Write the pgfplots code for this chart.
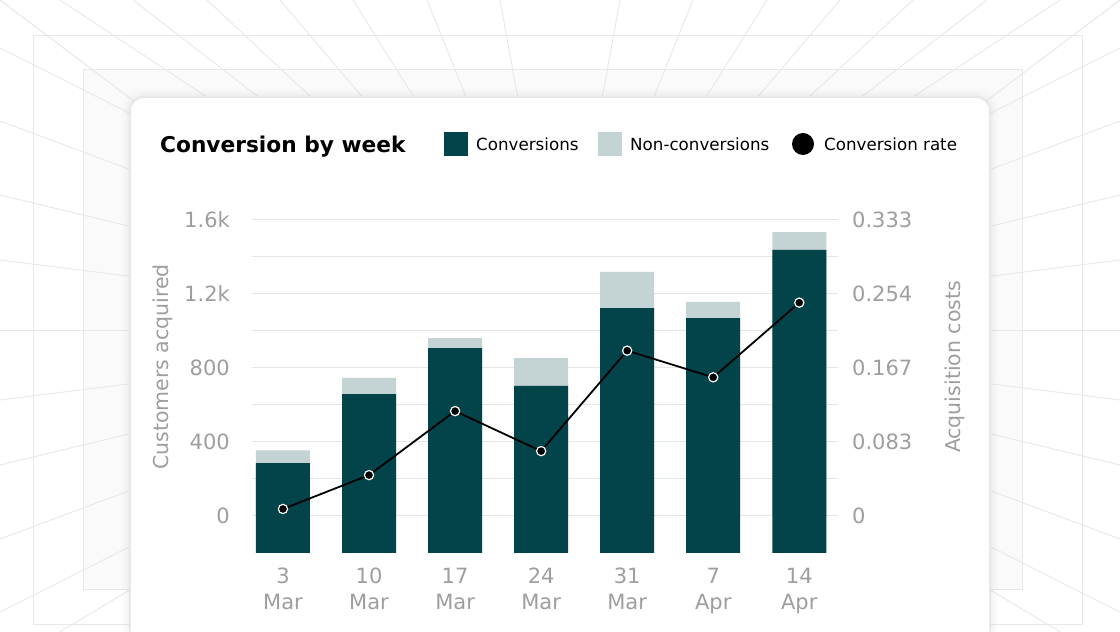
\documentclass[border=0pt]{standalone}
\usepackage{fontspec}
\setmainfont{DejaVu Sans}
\usepackage{pgfplots}
\pgfplotsset{compat=1.18}

\definecolor{convdark}{HTML}{03444A}
\definecolor{convlight}{HTML}{C4D3D3}
\definecolor{tickgray}{HTML}{9E9E9E}
\definecolor{gridgray}{HTML}{E6E6E6}
\definecolor{bgline}{HTML}{E8E8E8}

\begin{document}
\begin{tikzpicture}
\begin{scope}[x=1pt,y=1pt]
% background: perspective grid
\fill[white] (0,0) rectangle (1120,632);
\begin{scope}
\clip (0,0) rectangle (1120,632);
\fill[black!2] (83,42) rectangle (1022,562);
\foreach \x in {60,133,207,280,353,427,500,620,693,767,840,913,987,1060} {
  \draw[bgline, line width=0.9pt] (\x,632) -- (560,302);
  \draw[bgline, line width=0.9pt] (\x,0) -- (560,302);
}
\foreach \y in {20,93,167,232,372,437,511,584} {
  \draw[bgline, line width=0.9pt] (0,\y) -- (560,302);
  \draw[bgline, line width=0.9pt] (1120,\y) -- (560,302);
}
\draw[bgline, line width=0.9pt] (0,302) -- (1120,302);
% room edges
\draw[bgline, line width=1pt] (0,632) -- (135,530);
\draw[bgline, line width=1pt] (1120,632) -- (985,530);
\draw[bgline, line width=1pt] (33,7) rectangle (1082,596);
\draw[bgline, line width=1pt] (83,42) rectangle (1022,562);
% card shadow and card
\foreach \d/\o in {8/0.01,5/0.015,2.5/0.02} {
  \fill[black, opacity=\o, rounded corners=18pt] (130-\d,-40) rectangle (990+\d,535+\d);
}
\filldraw[fill=white, draw=black!9, line width=1.8pt, rounded corners=14pt] (130,-40) rectangle (990,535);
\end{scope}
\path (0,0) rectangle (1120,632);

% title and legend
\node[anchor=base west, inner sep=0pt, font=\fontsize{21.7}{26}\selectfont\bfseries] at (160,479) {Conversion by week};
\fill[convdark] (444,476) rectangle (468,500);
\node[anchor=base west, inner sep=0pt, font=\fontsize{16.7}{20}\selectfont] at (476,481) {Conversions};
\fill[convlight] (598,476) rectangle (622,500);
\node[anchor=base west, inner sep=0pt, font=\fontsize{16.7}{20}\selectfont] at (630,481) {Non-conversions};
\fill[black] (803,488) circle (11);
\node[anchor=base west, inner sep=0pt, font=\fontsize{16.7}{20}\selectfont] at (824,481) {Conversion rate};
\end{scope}

% bars: customers acquired
\begin{axis}[
  at={(252pt,79pt)}, anchor=south west,
  scale only axis, width=586pt, height=333pt,
  xmin=-0.36, xmax=6.45, ymin=-200, ymax=1600,
  axis line style={draw=none},
  major tick length=0pt, minor tick length=0pt,
  ytick={0,400,800,1200,1600},
  yticklabels={0,400,800,1.2k,1.6k},
  minor ytick={200,600,1000,1400},
  ymajorgrids, yminorgrids,
  major grid style={draw=gridgray, line width=1pt},
  minor grid style={draw=gridgray, line width=1pt},
  xtick={0,1,2,3,4,5,6},
  xticklabels={{3\\Mar},{10\\Mar},{17\\Mar},{24\\Mar},{31\\Mar},{7\\Apr},{14\\Apr}},
  xticklabel style={align=center, inner sep=0pt, yshift=-15pt,
    font=\fontsize{21}{26}\selectfont, text=tickgray},
  yticklabel style={inner sep=0pt, xshift=-22pt,
    font=\fontsize{21}{24}\selectfont, text=tickgray},
  ylabel={Customers acquired},
  every axis y label/.style={at={(axis description cs:0,0.5586)}, xshift=-89pt,
    rotate=90, anchor=center, font=\fontsize{20.5}{24}\selectfont, text=tickgray},
  ybar, bar width=54pt, bar shift=0pt,
]
% tops of the light bars (conversions + non-conversions)
\addplot[fill=convlight, draw=none] coordinates {
  (0,355) (1,746) (2,962) (3,854) (4,1319) (5,1157) (6,1535)};
% conversions
\addplot[fill=convdark, draw=none] coordinates {
  (0,286) (1,659) (2,908) (3,703) (4,1124) (5,1070) (6,1438)};
% bars run down to the bottom of the plot
\addplot[fill=convdark, draw=none] coordinates {
  (0,-200) (1,-200) (2,-200) (3,-200) (4,-200) (5,-200) (6,-200)};
\end{axis}

% line: conversion rate
\begin{axis}[
  at={(252pt,79pt)}, anchor=south west,
  scale only axis, width=586pt, height=333pt,
  xmin=-0.36, xmax=6.45, ymin=-0.041625, ymax=0.333,
  axis line style={draw=none},
  major tick length=0pt,
  xtick=\empty,
  ytick={0,0.08325,0.1665,0.24975,0.333},
  yticklabels={0,0.083,0.167,0.254,0.333},
  yticklabel pos=right,
  yticklabel style={inner sep=0pt, xshift=14pt,
    font=\fontsize{21}{24}\selectfont, text=tickgray},
  ylabel={Acquisition costs},
  every axis y label/.style={at={(axis description cs:1,0.5586)}, xshift=117pt,
    rotate=90, anchor=center, font=\fontsize{20.5}{24}\selectfont, text=tickgray},
  clip=false,
]
\addplot[black, line width=1.8pt, mark=*, mark size=4.6pt,
  mark options={fill=black, draw=white, line width=1.2pt}] coordinates {
  (0,0.0079) (1,0.046) (2,0.118) (3,0.073) (4,0.186) (5,0.156) (6,0.240)};
\end{axis}
\end{tikzpicture}
\end{document}
